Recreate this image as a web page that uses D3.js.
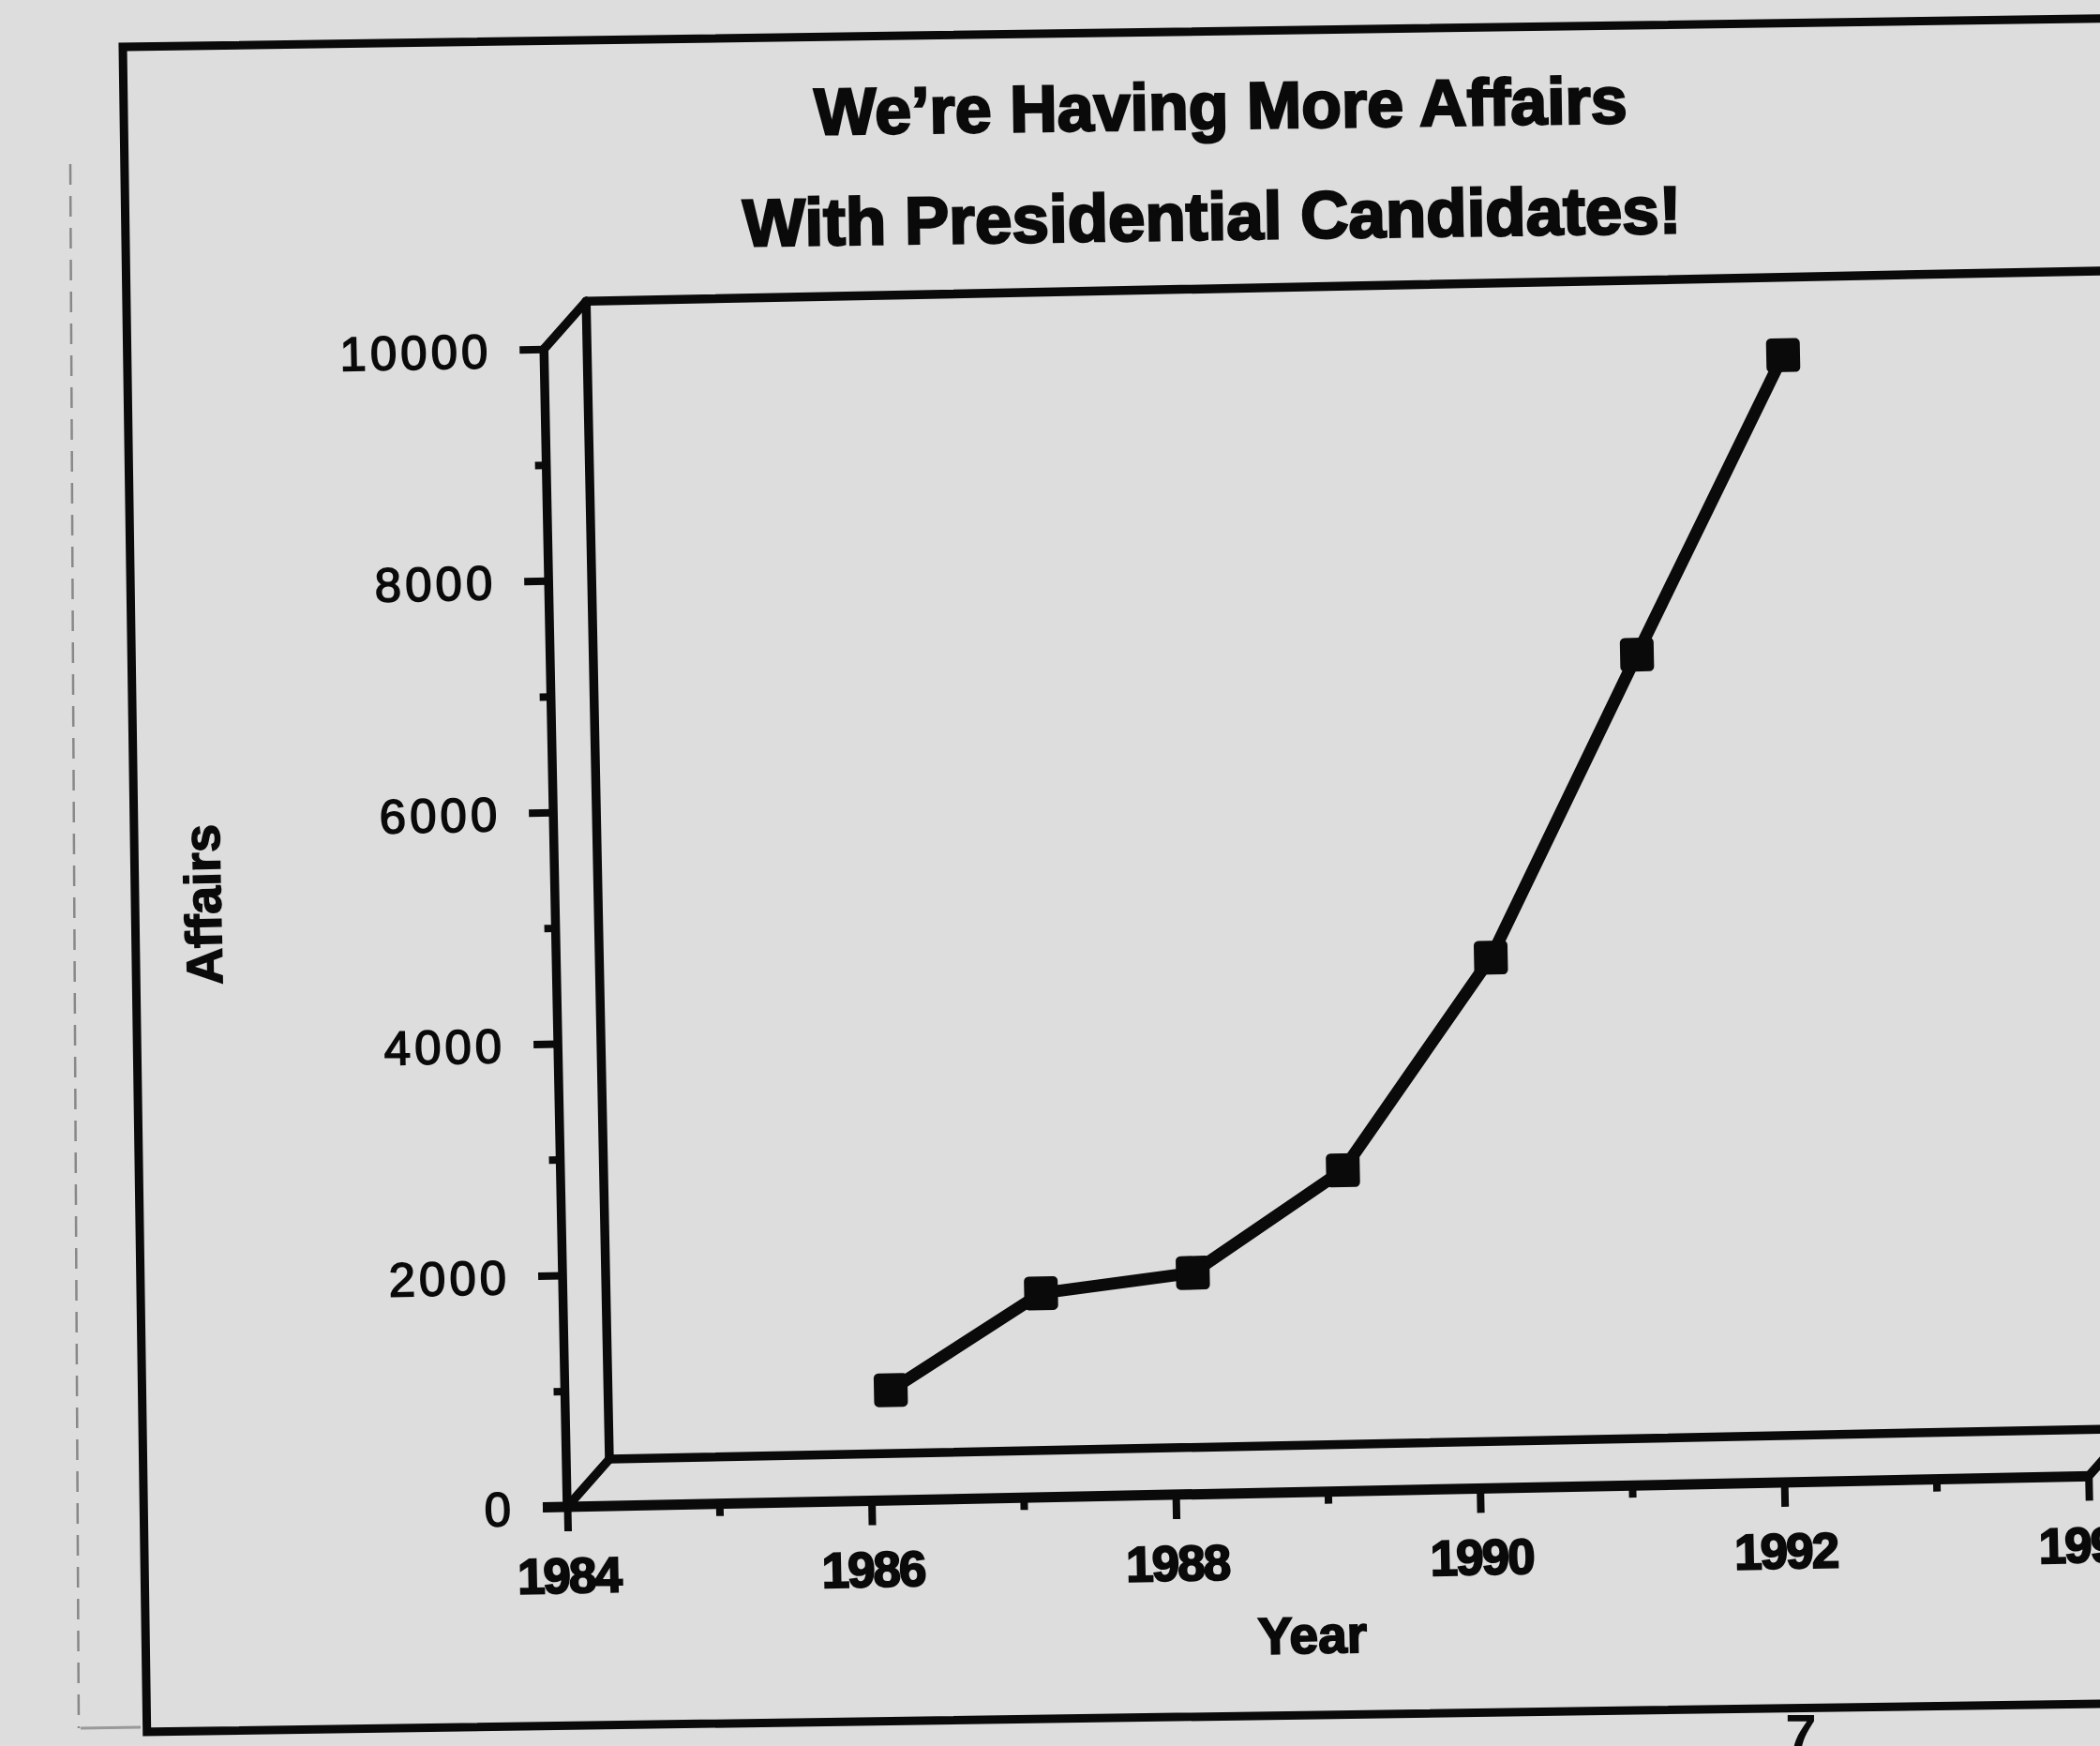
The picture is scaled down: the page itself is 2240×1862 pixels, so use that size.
<!DOCTYPE html>
<html>
<head>
<meta charset="utf-8">
<script src="https://cdn.jsdelivr.net/npm/d3@7"></script>
<style>
  html, body { margin: 0; padding: 0; background: #dddddd; }
  svg { display: block; }
</style>
</head>
<body>
<svg id="chart"></svg>
<script>
// Data.
const years = [1986, 1987, 1988, 1989, 1990, 1991, 1992];
const affairs = [750, 1560, 1710, 2570, 4380, 6970, 9530];
const yearTicks = [1984, 1986, 1988, 1990, 1992, 1994];
const yearMinor = [1985, 1987, 1989, 1991, 1993];
const affairTicks = [0, 2000, 4000, 6000, 8000, 10000];
const affairMinor = [1000, 3000, 5000, 7000, 9000];
const titleLines = ["We’re Having More Affairs", "With Presidential Candidates!"];
const xTitle = "Year";
const yTitle = "Affairs";

const width = 2240, height = 1862;
const ink = "#0a0a0a";
const paper = "#dddddd";
const font = "'Liberation Sans', Arial, Helvetica, sans-serif";

const svg = d3.select("#chart").attr("width", width).attr("height", height);
svg.append("rect").attr("width", width).attr("height", height).attr("fill", paper);

// faint page edge on the left of the photo
svg.append("line")
    .attr("x1", 75).attr("y1", 175).attr("x2", 84).attr("y2", 1843)
    .attr("stroke", "#888").attr("stroke-width", 2.5).attr("stroke-dasharray", "22 12");
svg.append("line")
    .attr("x1", 86).attr("y1", 1843).attr("x2", 150).attr("y2", 1842)
    .attr("stroke", "#999").attr("stroke-width", 3);

// Outer frame + title (the sheet is a little tilted in the photo)
const frame = svg.append("g").attr("transform", "rotate(-0.82,131,50)");
frame.append("rect")
    .attr("x", 131).attr("y", 50).attr("width", 2300).attr("height", 1797)
    .attr("fill", "none").attr("stroke", ink).attr("stroke-width", 9);

frame.selectAll("text.title")
    .data(titleLines)
    .join("text")
    .attr("class", "title")
    .attr("x", (d, i) => i === 0 ? 1301 : 1290)
    .attr("y", (d, i) => i === 0 ? 154 : 272)
    .attr("text-anchor", "middle")
    .attr("font-family", font)
    .attr("font-weight", "bold")
    .attr("font-size", (d, i) => i === 0 ? 70 : 71)
    .attr("fill", ink)
    .attr("stroke", ink)
    .attr("stroke-width", 2.5)
    .text(d => d);

// Scales, in the un-rotated chart frame.
const x = d3.scaleLinear().domain([1984, 1994]).range([605, 2228]);
const y = d3.scaleLinear().domain([0, 10000]).range([1607, 372]);
const depth = { dx: 46, dy: -50 }; // 3D box depth
const half = { dx: depth.dx / 2, dy: depth.dy / 2 }; // series sits mid-depth

const chart = svg.append("g").attr("transform", `rotate(-1.15,${x(1984)},${y(0)})`);

// 3D box outline
const x0 = x(1984), x1 = x(1994), y0 = y(0), y1 = y(10000);
const box = [
    [[x0, y0], [x0, y1]],                                   // front y axis
    [[x0, y1], [x0 + depth.dx, y1 + depth.dy]],             // top diagonal
    [[x0 + depth.dx, y1 + depth.dy], [x0 + depth.dx, y0 + depth.dy]], // back wall left
    [[x0 + depth.dx, y1 + depth.dy], [x1 + depth.dx + 60, y1 + depth.dy]], // back wall top
    [[x0 + depth.dx, y0 + depth.dy], [x1 + depth.dx + 60, y0 + depth.dy]], // back floor edge
    [[x0, y0], [x0 + depth.dx, y0 + depth.dy]],             // floor left diagonal
    [[x1, y0], [x1 + depth.dx, y0 + depth.dy]]              // floor right diagonal
];
const seg = d3.line();
chart.selectAll("path.box")
    .data(box)
    .join("path")
    .attr("class", "box")
    .attr("d", d => seg(d))
    .attr("fill", "none")
    .attr("stroke", ink)
    .attr("stroke-width", 9.5)
    .attr("stroke-linecap", "round");

// front x axis line (heavier)
chart.append("path")
    .attr("d", seg([[x0 - 26, y0], [x1 + 4, y0]]))
    .attr("stroke", ink).attr("stroke-width", 11);

function styleAxis(g, size, weight, outline) {
    g.select(".domain").remove();
    g.selectAll(".tick line").attr("stroke", ink).attr("stroke-width", 8);
    g.selectAll(".tick text")
        .attr("fill", ink)
        .attr("stroke", ink)
        .attr("stroke-width", outline)
        .attr("font-family", font)
        .attr("font-size", size)
        .attr("font-weight", weight);
}

// x axis: major labelled ticks + minor ticks
chart.append("g")
    .attr("transform", `translate(0,${y0})`)
    .call(d3.axisBottom(x).tickValues(yearTicks).tickSize(26).tickPadding(28).tickFormat(d3.format("d")))
    .call(g => styleAxis(g, 53, "bold", 2))
    .call(g => g.selectAll(".tick text").attr("letter-spacing", -2));
chart.append("g")
    .attr("transform", `translate(0,${y0})`)
    .call(d3.axisBottom(x).tickValues(yearMinor).tickSize(13).tickFormat(""))
    .call(g => styleAxis(g, 10, "normal", 0));

// y axis
chart.append("g")
    .attr("transform", `translate(${x0},0)`)
    .call(d3.axisLeft(y).tickValues(affairTicks).tickSize(26).tickPadding(30).tickFormat(d3.format("d")))
    .call(g => styleAxis(g, 51, "normal", 1.6))
    .call(g => g.selectAll(".tick text").attr("letter-spacing", 4).attr("dy", "0.36em"));
chart.append("g")
    .attr("transform", `translate(${x0},0)`)
    .call(d3.axisLeft(y).tickValues(affairMinor).tickSize(12).tickFormat(""))
    .call(g => styleAxis(g, 10, "normal", 0));

// axis titles
chart.append("text")
    .attr("x", 1397).attr("y", 1759)
    .attr("dy", "0.36em")
    .attr("text-anchor", "middle")
    .attr("font-family", font).attr("font-weight", "bold").attr("font-size", 55)
    .attr("fill", ink).attr("stroke", ink).attr("stroke-width", 2)
    .text(xTitle);
chart.append("text")
    .attr("transform", "translate(229,957) rotate(-90)")
    .attr("dy", "0.36em")
    .attr("text-anchor", "middle")
    .attr("font-family", font).attr("font-weight", "bold").attr("font-size", 54)
    .attr("fill", ink).attr("stroke", ink).attr("stroke-width", 1.5)
    .text(yTitle);

// the series, drawn mid-depth in the box
const points = years.map((yr, i) => ({ year: yr, value: affairs[i] }));
const series = chart.append("g").attr("transform", `translate(${half.dx},${half.dy})`);
series.append("path")
    .datum(points)
    .attr("d", d3.line().x(d => x(d.year)).y(d => y(d.value)))
    .attr("fill", "none")
    .attr("stroke", ink)
    .attr("stroke-width", 13)
    .attr("stroke-linejoin", "round");
const m = 36;
series.selectAll("rect.marker")
    .data(points)
    .join("rect")
    .attr("class", "marker")
    .attr("x", d => x(d.year) - m / 2)
    .attr("y", d => y(d.value) - m / 2)
    .attr("width", m).attr("height", m)
    .attr("rx", 5)
    .attr("fill", ink);

// page number peeking under the frame
svg.append("text")
    .attr("x", 1921).attr("y", 1870)
    .attr("text-anchor", "middle")
    .attr("font-family", font).attr("font-weight", "bold").attr("font-size", 60)
    .attr("fill", ink)
    .text("7");
</script>
</body>
</html>
